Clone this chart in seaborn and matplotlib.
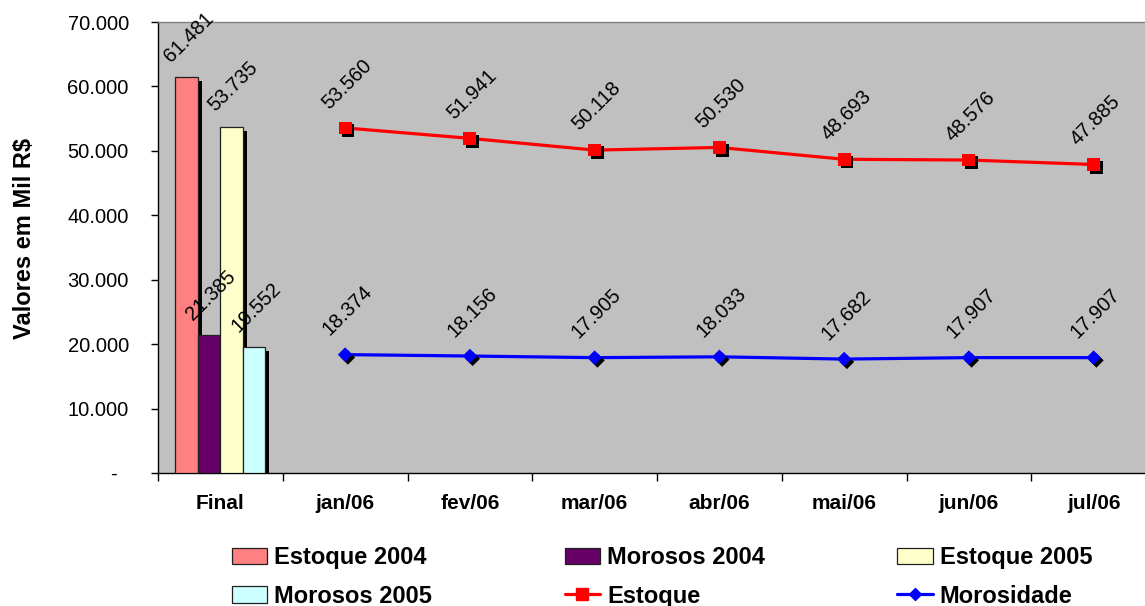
import numpy as np
import pandas as pd
import matplotlib
matplotlib.use("Agg")
import matplotlib.pyplot as plt
import matplotlib.patheffects as pe
from matplotlib.patches import Patch
from matplotlib.lines import Line2D
from matplotlib.ticker import FixedLocator, FuncFormatter
import seaborn as sns

# Categories on the x axis
categorias = ["Final", "jan/06", "fev/06", "mar/06", "abr/06", "mai/06", "jun/06", "jul/06"]

# Year-end totals (bars, "Final" group)
series_barras = ["Estoque 2004", "Morosos 2004", "Estoque 2005", "Morosos 2005"]
valores_barras = [61481, 21385, 53735, 19552]
cores_barras = ["#FF8080", "#660066", "#FFFFCC", "#CCFFFF"]

# Monthly series (lines)
meses = ["jan/06", "fev/06", "mar/06", "abr/06", "mai/06", "jun/06", "jul/06"]
estoque = [53560, 51941, 50118, 50530, 48693, 48576, 47885]
morosidade = [18374, 18156, 17905, 18033, 17682, 17907, 17907]

y_ticks = [0, 10000, 20000, 30000, 40000, 50000, 60000, 70000]

sns.set_theme(style="ticks")
plt.rcParams["font.family"] = ["Liberation Sans", "DejaVu Sans"]
plt.rcParams["text.color"] = "black"
plt.rcParams["xtick.color"] = "black"
plt.rcParams["ytick.color"] = "black"

W, H = 1145, 606
fig = plt.figure(figsize=(W / 100, H / 100), dpi=100)
ax = fig.add_axes([158 / W, (H - 473) / H, 998 / W, 451 / H])
ax.set_facecolor("#C0C0C0")


def fmt(v):
    return f"{v:,.0f}".replace(",", ".")


# Bars
df_barras = pd.DataFrame({
    "categoria": ["Final"] * len(series_barras),
    "serie": series_barras,
    "valor": valores_barras,
})
sns.barplot(data=df_barras, x="categoria", y="valor", hue="serie",
            order=categorias, hue_order=series_barras, palette=cores_barras,
            saturation=1, width=0.72, gap=0, edgecolor="#202020", linewidth=0.9,
            legend=False, ax=ax, zorder=3)

shadow_bar = [pe.SimplePatchShadow(offset=(3, -3), shadow_rgbFace="black", alpha=1), pe.Normal()]
for patch in ax.patches:
    patch.set_path_effects(shadow_bar)
    x = patch.get_x() + patch.get_width() / 2
    h = patch.get_height()
    ax.annotate(fmt(h), xy=(x, h), xytext=(2, 40), textcoords="offset pixels",
                rotation=45, rotation_mode="anchor", ha="center", va="center",
                fontsize=14.5, color="black", zorder=6)

# Lines
pos = [categorias.index(m) for m in meses]
sns.lineplot(x=pos, y=estoque, color="#FF0000", linewidth=2.3, ax=ax, zorder=4, sort=False)
sns.lineplot(x=pos, y=morosidade, color="#0000FF", linewidth=2.3, ax=ax, zorder=4, sort=False)

shadow_mk = [pe.SimplePatchShadow(offset=(2, -2), shadow_rgbFace="black", alpha=1), pe.Normal()]
sc1 = ax.scatter(pos, estoque, marker="s", s=85, color="#FF0000", edgecolors="none", zorder=5)
sc2 = ax.scatter(pos, morosidade, marker="D", s=55, color="#0000FF", edgecolors="none", zorder=5)
sc1.set_path_effects(shadow_mk)
sc2.set_path_effects(shadow_mk)

for serie in (estoque, morosidade):
    for x, v in zip(pos, serie):
        ax.annotate(fmt(v), xy=(x, v), xytext=(2, 44), textcoords="offset pixels",
                    rotation=45, rotation_mode="anchor", ha="center", va="center",
                    fontsize=14.5, color="black", zorder=6)

# Axes
ax.set_xlim(-0.5, len(categorias) - 0.5)
ax.set_ylim(0, 70000)
ax.set_yticks(y_ticks)
ax.yaxis.set_major_formatter(FuncFormatter(lambda v, p: "-  " if v == 0 else fmt(v)))
ax.set_xticks(range(len(categorias)))
ax.set_xticklabels(categorias, fontsize=15, fontweight="bold")
ax.xaxis.set_minor_locator(FixedLocator(np.arange(-0.5, len(categorias), 1.0)))
ax.tick_params(axis="x", which="major", length=0, pad=15)
ax.tick_params(axis="x", which="minor", length=6, width=1, color="black", direction="out")
ax.tick_params(axis="y", which="major", length=5, width=1, color="black", direction="out",
               labelsize=14.5, pad=16)
ax.set_xlabel("")
ax.set_ylabel("")
ax.grid(False)
for side in ("left", "bottom"):
    ax.spines[side].set_color("black")
    ax.spines[side].set_linewidth(1)
ax.spines["top"].set_color("#808080")
ax.spines["top"].set_linewidth(1)
ax.spines["right"].set_visible(False)

fig.text(25 / W, 1 - 238 / H, "Valores em Mil R$", rotation=90, ha="center", va="center",
         fontsize=17, fontweight="bold", color="black")

# Legend (three columns, filled row by row)
h_e04 = Patch(facecolor=cores_barras[0], edgecolor="#202020", linewidth=0.9)
h_m04 = Patch(facecolor=cores_barras[1], edgecolor="#202020", linewidth=0.9)
h_e05 = Patch(facecolor=cores_barras[2], edgecolor="#202020", linewidth=0.9)
h_m05 = Patch(facecolor=cores_barras[3], edgecolor="#202020", linewidth=0.9)
h_est = Line2D([], [], color="#FF0000", lw=2.3, marker="s", markersize=8)
h_mor = Line2D([], [], color="#0000FF", lw=2.3, marker="D", markersize=6)
handles = [h_e04, h_m05, h_m04, h_est, h_e05, h_mor]
labels = ["Estoque 2004", "Morosos 2005", "Morosos 2004", "Estoque", "Estoque 2005", "Morosidade"]
fig.legend(handles, labels, loc="center left", bbox_to_anchor=(232 / W, 1 - 577 / H),
           ncol=3, frameon=False, prop={"weight": "bold", "size": 17},
           handlelength=1.5, handleheight=0.68, handletextpad=0.3,
           columnspacing=5.6, labelspacing=0.65, borderpad=0, borderaxespad=0)

fig.savefig("out.png", dpi=100)
